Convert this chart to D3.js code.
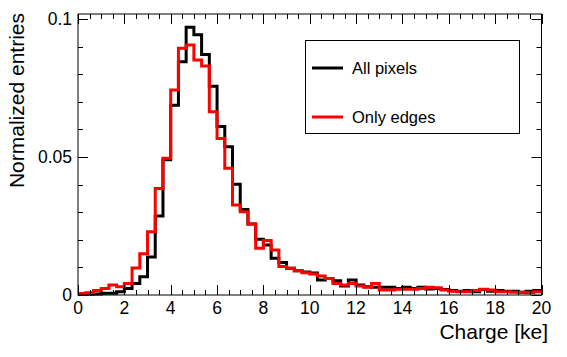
<!DOCTYPE html>
<html>
<head>
<meta charset="utf-8">
<script src="https://cdn.jsdelivr.net/npm/d3@7"></script>
<style>
  html, body { margin: 0; padding: 0; background: #fff; }
  svg { display: block; font-family: "Liberation Sans", Arial, Helvetica, sans-serif; }
</style>
</head>
<body>
<svg id="chart" width="567" height="357"></svg>
<script>
// ---- data (60 bins of 1/3 ke from 0 to 20 ke) ----
const binEdges = d3.range(0, 61).map(i => i / 3);
const allPixels = [
  0.0002, 0.0003, 0.0004, 0.0006, 0.0006, 0.0012, 0.0024, 0.0042, 0.0066, 0.0138,
  0.0286, 0.0490, 0.0687, 0.0845, 0.0970, 0.0943, 0.0871, 0.0756, 0.0610, 0.0537,
  0.0401, 0.0310, 0.0257, 0.0202, 0.0181, 0.0133, 0.0118, 0.0097, 0.0088, 0.0083,
  0.0080, 0.0054, 0.0060, 0.0052, 0.0033, 0.0054, 0.0036, 0.0030, 0.0028, 0.0028,
  0.0028, 0.0024, 0.0028, 0.0024, 0.0028, 0.0022, 0.0024, 0.0020, 0.0016, 0.0014,
  0.0016, 0.0012, 0.0020, 0.0014, 0.0016, 0.0014, 0.0014, 0.0010, 0.0014, 0.0016
];
const onlyEdges = [
  0.0005, 0.0008, 0.0016, 0.0024, 0.0036, 0.0030, 0.0042, 0.0098, 0.0149, 0.0229,
  0.0386, 0.0495, 0.0743, 0.0894, 0.0906, 0.0851, 0.0830, 0.0664, 0.0567, 0.0459,
  0.0326, 0.0302, 0.0257, 0.0169, 0.0197, 0.0163, 0.0103, 0.0097, 0.0088, 0.0081,
  0.0076, 0.0069, 0.0060, 0.0042, 0.0036, 0.0042, 0.0033, 0.0028, 0.0042, 0.0018,
  0.0018, 0.0021, 0.0021, 0.0021, 0.0024, 0.0028, 0.0026, 0.0018, 0.0014, 0.0012,
  0.0012, 0.0016, 0.0021, 0.0018, 0.0012, 0.0012, 0.0010, 0.0010, 0.0008, 0.0012
];
const seriesNames = ["All pixels", "Only edges"];
const seriesColors = ["#000000", "#ff0000"];
const xTickLabels = [0, 2, 4, 6, 8, 10, 12, 14, 16, 18, 20];
const yTickLabels = [0, 0.05, 0.1];
const xTitle = "Charge [ke]";
const yTitle = "Normalized entries";

// ---- layout ----
const L = 78, R = 541.5, T = 14, B = 295;
const svg = d3.select("#chart");
const x = d3.scaleLinear().domain([0, 20]).range([L, R]);
const y = d3.scaleLinear().domain([0, 0.1018]).range([B, T]);

// histograms
const line = d3.line().x(d => x(d[0])).y(d => y(d[1])).curve(d3.curveStepAfter);
function pts(vals) {
  const p = vals.map((v, i) => [binEdges[i], v]);
  p.push([binEdges[vals.length], vals[vals.length - 1]]);
  return p;
}
const g = svg.append("g");
g.append("path").attr("d", line(pts(allPixels)))
  .attr("fill", "none").attr("stroke", seriesColors[0]).attr("stroke-width", 3);
g.append("path").attr("d", line(pts(onlyEdges)))
  .attr("fill", "none").attr("stroke", seriesColors[1]).attr("stroke-width", 3);

// frame
svg.append("rect").attr("x", L).attr("y", T).attr("width", R - L).attr("height", B - T)
  .attr("fill", "none").attr("stroke", "#000").attr("stroke-width", 1);

// ticks
const xMinor = d3.range(0, 20.001, 0.5);
const yMinor = d3.range(0, 0.1001, 0.01);
const ticks = svg.append("g").attr("stroke", "#000").attr("stroke-width", 1);
xMinor.forEach(v => {
  const major = Math.abs(v / 2 - Math.round(v / 2)) < 1e-6;
  const len = major ? 10 : 5;
  const xx = Math.round(x(v)) + 0.5;
  ticks.append("line").attr("x1", xx).attr("x2", xx).attr("y1", B).attr("y2", B - len);
  ticks.append("line").attr("x1", xx).attr("x2", xx).attr("y1", T).attr("y2", T + len);
});
yMinor.forEach(v => {
  const major = Math.abs(v / 0.05 - Math.round(v / 0.05)) < 1e-6;
  const len = major ? 10 : 5;
  const yy = Math.round(y(v)) + 0.5;
  ticks.append("line").attr("x1", L).attr("x2", L + len).attr("y1", yy).attr("y2", yy);
  ticks.append("line").attr("x1", R).attr("x2", R - len).attr("y1", yy).attr("y2", yy);
});

// tick labels
svg.append("g").selectAll("text").data(xTickLabels).join("text")
  .attr("x", d => x(d)).attr("y", 314)
  .attr("text-anchor", "middle").attr("font-size", 17.5).attr("fill", "#000")
  .text(d => d);
svg.append("g").selectAll("text").data(yTickLabels).join("text")
  .attr("x", 72).attr("y", d => y(d)).attr("dy", "0.35em")
  .attr("text-anchor", "end").attr("font-size", 17.5).attr("fill", "#000")
  .text(d => d);

// axis titles
svg.append("text").attr("x", 548).attr("y", 339).attr("text-anchor", "end")
  .attr("font-size", 21).attr("fill", "#000").text(xTitle);
svg.append("text").attr("transform", "translate(24,13) rotate(-90)")
  .attr("text-anchor", "end").attr("font-size", 21).attr("fill", "#000").text(yTitle);

// legend
const lg = svg.append("g");
lg.append("rect").attr("x", 305.5).attr("y", 40.5).attr("width", 214).attr("height", 93)
  .attr("fill", "#fff").attr("stroke", "#000").attr("stroke-width", 1);
seriesNames.forEach((name, i) => {
  const yy = 68 + i * 49;
  lg.append("line").attr("x1", 312).attr("x2", 343).attr("y1", yy).attr("y2", yy)
    .attr("stroke", seriesColors[i]).attr("stroke-width", 3);
  lg.append("text").attr("x", 352).attr("y", yy).attr("dy", "0.35em")
    .attr("font-size", 16.5).attr("fill", "#000").text(name);
});
</script>
</body>
</html>
